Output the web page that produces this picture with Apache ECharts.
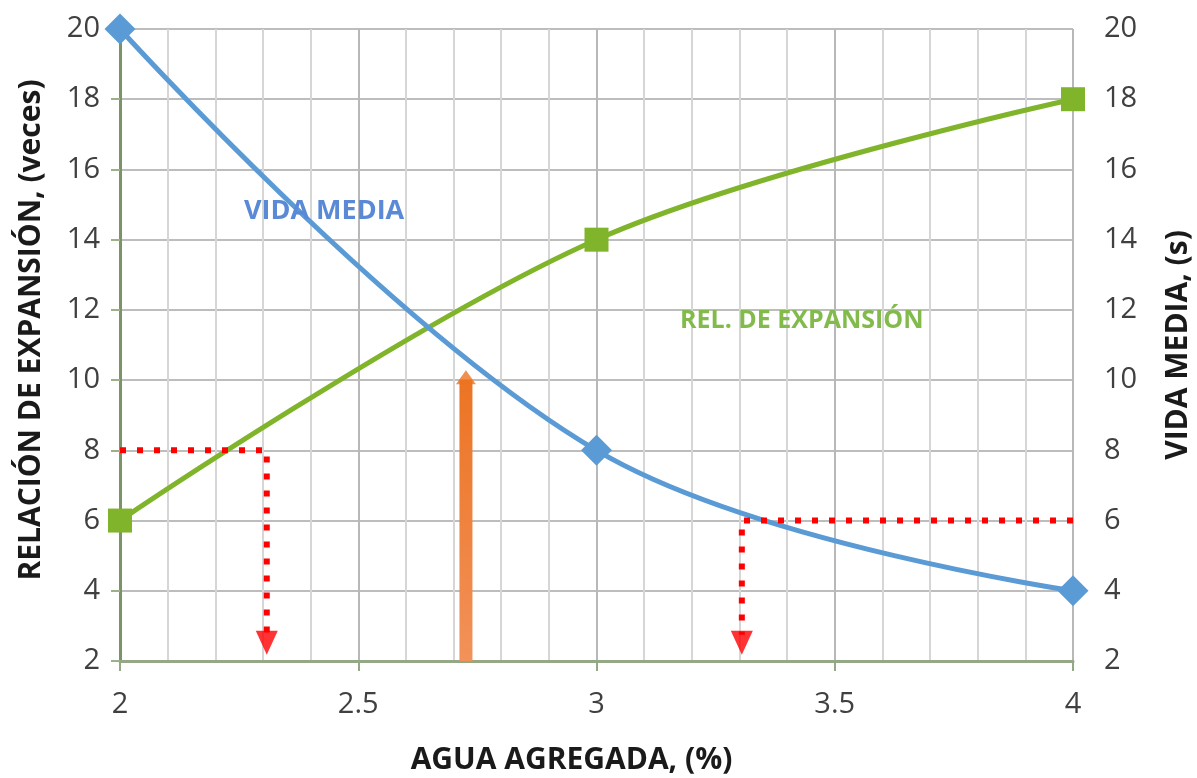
<!DOCTYPE html>
<html>
<head>
<meta charset="utf-8">
<script src="https://cdn.jsdelivr.net/npm/echarts@6/dist/echarts.min.js"></script>
<style>
html,body{margin:0;padding:0;background:#fff;}
#chart{width:1197px;height:778px;}
</style>
</head>
<body>
<div id="chart"></div>
<script>
// ---- data ----
const aguaAgregada = [2, 3, 4];
const relExpansion = [6, 14, 18];
const vidaMedia = [20, 8, 4];
const guideLeft = [[2, 8], [2.308, 8], [2.308, 2.75]];
const guideRight = [[4, 6], [3.305, 6], [3.305, 2.75]];
const guideArrowHeads = [[2.308, 2.52], [3.305, 2.52]];
const orangeShaft = [[2.726, 2], [2.726, 10.0]];
const orangeHead = [[2.726, 10.08]];
const xTickValues = [2, 2.5, 3, 3.5, 4];
const yTickValues = [2, 4, 6, 8, 10, 12, 14, 16, 18, 20];

const FONT = '"Open Sans", "Noto Sans", sans-serif';

const chart = echarts.init(document.getElementById('chart'), null, {renderer: 'canvas'});

const pair = (xs, ys) => xs.map((x, i) => [x, ys[i]]);

const option = {
  backgroundColor: '#ffffff',
  animation: false,
  grid: {left: 120, right: 124, top: 29, bottom: 117, containLabel: false, outerBoundsMode: 'none'},
  xAxis: {
    type: 'value',
    min: xTickValues[0], max: xTickValues[xTickValues.length - 1], interval: 0.5,
    name: 'AGUA AGREGADA, (%)',
    nameLocation: 'middle',
    nameGap: 84,
    nameTextStyle: {fontFamily: FONT, fontWeight: 'bold', fontSize: 30, color: '#1a1a1a', padding: [0, 50, 0, 0]},
    axisLine: {show: true, lineStyle: {color: '#95a886', width: 3}},
    axisTick: {show: true, length: 10, lineStyle: {color: '#95a886', width: 2}},
    axisLabel: {fontFamily: FONT, fontSize: 29, color: '#404040', margin: 29,
      formatter: v => String(v)},
    splitLine: {show: true, lineStyle: {color: '#b8b8b8', width: 2}},
    minorTick: {show: true, splitNumber: 5, length: 0},
    minorSplitLine: {show: true, lineStyle: {color: '#d6d6d6', width: 2}}
  },
  yAxis: [
    {
      type: 'value', min: yTickValues[0], max: yTickValues[yTickValues.length - 1], interval: 2,
      name: 'RELACIÓN DE EXPANSIÓN, (veces)',
      nameLocation: 'middle', nameRotate: 90, nameGap: 74,
      nameTextStyle: {fontFamily: FONT, fontWeight: 'bold', fontSize: 30, color: '#1a1a1a', padding: [0, 0, 0, 30]},
      axisLine: {show: true, lineStyle: {color: '#7a9468', width: 3}},
      axisTick: {show: true, length: 9, lineStyle: {color: '#9cb08a', width: 2}},
      axisLabel: {fontFamily: FONT, fontSize: 29, color: '#404040', margin: 20},
      splitLine: {show: true, lineStyle: {color: '#bdbdbd', width: 2}}
    },
    {
      type: 'value', position: 'right', min: yTickValues[0], max: yTickValues[yTickValues.length - 1], interval: 2,
      name: 'VIDA MEDIA, (s)',
      nameLocation: 'middle', nameRotate: 90, nameGap: 90,
      nameTextStyle: {fontFamily: FONT, fontWeight: 'bold', fontSize: 30, color: '#1a1a1a'},
      axisLine: {show: false},
      axisTick: {show: false},
      axisLabel: {fontFamily: FONT, fontSize: 29, color: '#404040', margin: 31},
      splitLine: {show: false}
    }
  ],
  series: [
    {
      name: 'orangeShaft', type: 'line', data: orangeShaft, yAxisIndex: 0, z: 2,
      symbol: 'none', silent: true,
      lineStyle: {width: 13, color: new echarts.graphic.LinearGradient(0, 0, 0, 1, [
        {offset: 0, color: '#ec7322'}, {offset: 1, color: '#f2925a'}]), cap: 'butt'}
    },
    {
      name: 'orangeHead', type: 'scatter', data: orangeHead, yAxisIndex: 0, z: 2,
      symbol: 'triangle', symbolSize: [20, 14], silent: true,
      itemStyle: {color: '#ec7322'}
    },
    {
      name: 'REL. DE EXPANSIÓN', type: 'line', data: pair(aguaAgregada, relExpansion), yAxisIndex: 0, z: 4,
      smooth: 0.35, symbol: 'rect', symbolSize: 24,
      lineStyle: {width: 5, color: '#80b42a'},
      itemStyle: {color: '#80b42a'}
    },
    {
      name: 'VIDA MEDIA', type: 'line', data: pair(aguaAgregada, vidaMedia), yAxisIndex: 1, z: 5,
      smooth: 0.38, symbol: 'diamond', symbolSize: 31,
      lineStyle: {width: 5, color: '#5b9bd5'},
      itemStyle: {color: '#5b9bd5'}
    },
    {
      name: 'guideLeft', type: 'line', data: guideLeft, yAxisIndex: 0, z: 6,
      symbol: 'none', silent: true,
      lineStyle: {width: 6, color: '#ff0000', type: [6, 11]}
    },
    {
      name: 'guideRight', type: 'line', data: guideRight, yAxisIndex: 1, z: 6,
      symbol: 'none', silent: true,
      lineStyle: {width: 6, color: '#ff0000', type: [6, 11]}
    },
    {
      name: 'guideHeads', type: 'scatter', data: guideArrowHeads, yAxisIndex: 0, z: 6,
      symbol: 'triangle', symbolRotate: 180, symbolSize: [22, 24], silent: true,
      itemStyle: {color: '#ff0000'}
    }
  ],
  graphic: [
    {type: 'text', left: 244, top: 198, z: 10, silent: true,
     style: {text: 'VIDA MEDIA', fontFamily: FONT, fontWeight: 'bold', fontSize: 27, fill: '#5a8ad6'}},
    {type: 'text', left: 680, top: 308, z: 10, silent: true,
     style: {text: 'REL. DE EXPANSIÓN', fontFamily: FONT, fontWeight: 'bold', fontSize: 25, fill: '#82bb4c'}}
  ]
};
chart.setOption(option);
</script>
</body>
</html>
